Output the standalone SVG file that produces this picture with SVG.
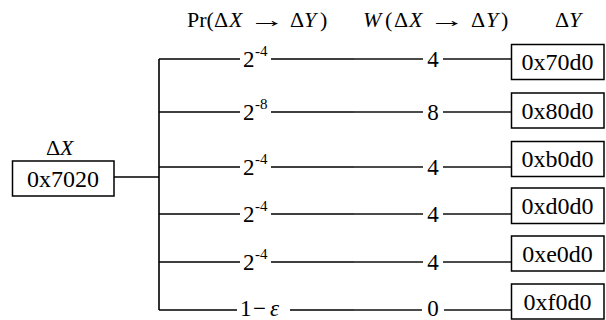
<svg xmlns="http://www.w3.org/2000/svg" width="606" height="320" viewBox="0 0 606 320" font-family="'Liberation Serif', 'DejaVu Serif', serif">
<style>
text{font-family:'Liberation Serif','DejaVu Serif',serif;fill:#000}
.hd{font-size:22px}
.ar{font-size:22px}
.it{font-style:italic}
.bx{fill:#fff;stroke:#000;stroke-width:1.5}
.bt{font-size:24px;text-anchor:middle}
.ln{stroke:#000;stroke-width:1.6;fill:none}
.ln2{stroke:#111;stroke-width:1.3;fill:none}
.lb{font-size:23px}
.sp{font-size:15px}
.nm{font-size:23px;text-anchor:middle}
</style>
<rect width="606" height="320" fill="#fff"/>
<g id="headers">
<text class="hd" y="27"><tspan x="187">Pr(</tspan><tspan x="214">Δ</tspan><tspan x="229" class="it">X</tspan><tspan x="290">Δ</tspan><tspan x="304" class="it">Y</tspan><tspan x="320">)</tspan></text>
<text class="ar" transform="translate(249 27) scale(1.65 1)" x="0" y="0">→</text>
<text class="hd" y="27"><tspan x="363" class="it">W</tspan><tspan x="385">(</tspan><tspan x="394">Δ</tspan><tspan x="409" class="it">X</tspan><tspan x="471">Δ</tspan><tspan x="486" class="it">Y</tspan><tspan x="501">)</tspan></text>
<text class="ar" transform="translate(429 27) scale(1.65 1)" x="0" y="0">→</text>
<text class="hd" y="27"><tspan x="555">Δ</tspan><tspan x="569" class="it">Y</tspan></text>
<text class="hd" y="155"><tspan x="46">Δ</tspan><tspan x="60" class="it">X</tspan></text>
</g>
<g id="connectors">
<path class="ln" d="M114 177H159M159 59V310"/>
<path class="ln" d="M159 59H240M271 59H354"/><path class="ln2" d="M354 59H423M443 59H511"/>
<path class="ln" d="M159 112H240M271 112H354"/><path class="ln2" d="M354 112H423M443 112H511"/>
<path class="ln" d="M159 167H240M271 167H354"/><path class="ln2" d="M354 167H423M443 167H511"/>
<path class="ln" d="M159 214H240M271 214H354"/><path class="ln2" d="M354 214H423M443 214H511"/>
<path class="ln" d="M159 262H240M271 262H354"/><path class="ln2" d="M354 262H423M443 262H511"/>
<path class="ln" d="M159 310H237M290 310H354"/><path class="ln2" d="M354 310H422M444 310H511"/>
</g>
<g id="edge-labels">
<text class="lb" y="67"><tspan x="243">2</tspan><tspan class="sp" x="255" y="56">-4</tspan></text>
<text class="lb" y="120"><tspan x="243">2</tspan><tspan class="sp" x="255" y="109">-8</tspan></text>
<text class="lb" y="175"><tspan x="243">2</tspan><tspan class="sp" x="255" y="164">-4</tspan></text>
<text class="lb" y="222"><tspan x="243">2</tspan><tspan class="sp" x="255" y="211">-4</tspan></text>
<text class="lb" y="270"><tspan x="243">2</tspan><tspan class="sp" x="255" y="259">-4</tspan></text>
<text class="lb" y="316"><tspan x="240">1</tspan><tspan x="253">−</tspan><tspan x="270" class="it">ε</tspan></text>
<text class="nm" x="433" y="316">0</text>
<text class="nm" x="433" y="67">4</text>
<text class="nm" x="433" y="120">8</text>
<text class="nm" x="433" y="175">4</text>
<text class="nm" x="433" y="222">4</text>
<text class="nm" x="433" y="270">4</text>
</g>
<g id="node-src"><rect class="bx" x="12.5" y="161" width="101.5" height="35"/><text class="bt" x="63" y="186.5">0x7020</text></g>
<g id="node-70d0"><rect class="bx" x="511.5" y="44.5" width="92.5" height="35"/><text class="bt" x="557.5" y="70">0x70d0</text></g>
<g id="node-80d0"><rect class="bx" x="511.5" y="93" width="92.5" height="35"/><text class="bt" x="557.5" y="118.5">0x80d0</text></g>
<g id="node-b0d0"><rect class="bx" x="511.5" y="141.5" width="92.5" height="35"/><text class="bt" x="557.5" y="167">0xb0d0</text></g>
<g id="node-d0d0"><rect class="bx" x="511.5" y="188" width="92.5" height="35.5"/><text class="bt" x="557.5" y="213.5">0xd0d0</text></g>
<g id="node-e0d0"><rect class="bx" x="511.5" y="236" width="92.5" height="35"/><text class="bt" x="557.5" y="261.5">0xe0d0</text></g>
<g id="node-f0d0"><rect class="bx" x="511.5" y="284" width="92.5" height="35"/><text class="bt" x="557.5" y="309.5">0xf0d0</text></g>
</svg>
